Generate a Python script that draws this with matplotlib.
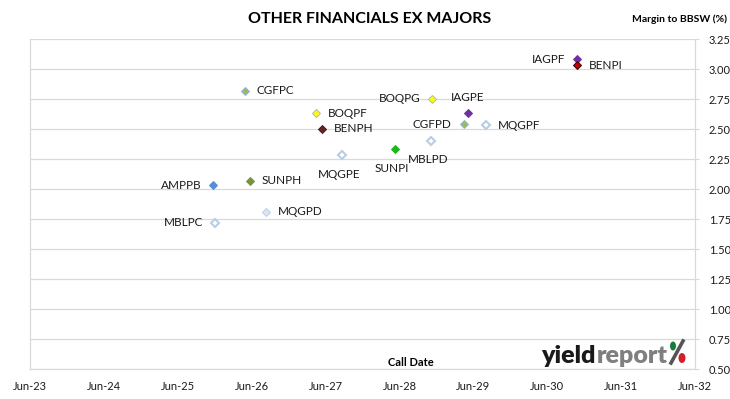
import datetime as dt
import matplotlib
matplotlib.use("Agg")
import matplotlib.pyplot as plt
import matplotlib.dates as mdates
from matplotlib.patches import Ellipse
from matplotlib.lines import Line2D

plt.rcParams["font.family"] = ["Lato", "DejaVu Sans"]

# call date and margin for each security
names = ["CGFPC", "BOQPF", "BENPH", "MQGPE", "AMPPB", "SUNPH", "MQGPD", "MBLPC",
         "IAGPF", "BENPI", "BOQPG", "IAGPE", "CGFPD", "MQGPF", "MBLPD", "SUNPI"]
call_dates = ["2026-04-28", "2027-04-17", "2027-05-13", "2027-08-20",
              "2025-11-24", "2026-05-24", "2026-08-13", "2025-12-01",
              "2030-10-25", "2030-10-25", "2028-11-09", "2029-05-06",
              "2029-04-14", "2029-08-02", "2028-11-05", "2028-05-10"]
margins = [2.82, 2.63, 2.50, 2.28, 2.03, 2.07, 1.81, 1.72,
           3.08, 3.03, 2.75, 2.63, 2.54, 2.53, 2.40, 2.33]

# marker face / edge colours
LB = "#B9CDE5"
styles = {
    "CGFPC": ("#9BBB59", "#95B3D7"),
    "BOQPF": ("#FFFF00", "#B0B4C4"),
    "BENPH": ("#632523", "#4A1A18"),
    "MQGPE": ("white", LB),
    "AMPPB": ("#558ED5", "#558ED5"),
    "SUNPH": ("#77933C", "#77933C"),
    "MQGPD": ("#DCE6F2", LB),
    "MBLPC": ("white", LB),
    "IAGPF": ("#7030A0", "#7030A0"),
    "BENPI": ("#C00000", "#400000"),
    "BOQPG": ("#FFFF00", "#B0B4C4"),
    "IAGPE": ("#7030A0", "#7030A0"),
    "CGFPD": ("#9BBB59", "#95B3D7"),
    "MQGPF": ("white", LB),
    "MBLPD": ("white", LB),
    "SUNPI": ("#1CB81C", "#1CB81C"),
}

# label placement: r = right, l = left, b = below, a = above
label_side = {"CGFPC": "r", "BOQPF": "r", "BENPH": "r", "MQGPE": "b",
              "AMPPB": "l", "SUNPH": "r", "MQGPD": "r", "MBLPC": "l",
              "IAGPF": "l", "BENPI": "r", "BOQPG": "l", "IAGPE": "a",
              "CGFPD": "l", "MQGPF": "r", "MBLPD": "b", "SUNPI": "b"}

fig = plt.figure(figsize=(7.3, 3.99), dpi=100)
ax = fig.add_axes([30 / 730, 30 / 399, 665 / 730, 330 / 399])

for name, d, m in zip(names, call_dates, margins):
    x = mdates.date2num(dt.datetime.strptime(d, "%Y-%m-%d"))
    fc, ec = styles[name]
    hollow = fc == "white"
    ax.plot(x, m, marker="D", ms=3.6 if hollow else 4.0, mfc=fc, mec=ec,
            mew=1.5 if hollow else 0.7, ls="none", zorder=3)
    side = label_side[name]
    if side == "r":
        off, ha, va = (8.5, 0), "left", "center"
    elif side == "l":
        off, ha, va = (-8.5, 0), "right", "center"
    elif side == "b":
        off, ha, va = (-2, -13.5), "center", "center"
    else:
        off, ha, va = (0, 11.5), "center", "center"
    ax.annotate(name, (x, m), xytext=off, textcoords="offset points",
                ha=ha, va=va, fontsize=8.5, color="#1a1a1a")

ax.set_xlim(mdates.date2num(dt.datetime(2023, 6, 1)),
            mdates.date2num(dt.datetime(2032, 6, 1)))
ax.set_ylim(0.5, 3.25)
ax.xaxis.set_major_locator(mdates.MonthLocator(bymonth=6, bymonthday=1))
ax.xaxis.set_major_formatter(mdates.DateFormatter("Jun-%y"))
ax.set_yticks([0.5 + 0.25 * i for i in range(12)])
ax.yaxis.set_major_formatter(matplotlib.ticker.FormatStrFormatter("%.2f"))

ax.yaxis.tick_right()
ax.tick_params(axis="y", direction="out", length=3, width=0.8, color="#D9D9D9",
               labelsize=8, pad=7, labelcolor="#1a1a1a")
ax.tick_params(axis="x", length=0, labelsize=8, pad=9, labelcolor="#1a1a1a")
ax.grid(axis="y", color="#D9D9D9", lw=0.9)
ax.set_axisbelow(True)
for s in ["left", "right", "bottom"]:
    ax.spines[s].set_color("#D9D9D9")
    ax.spines[s].set_linewidth(0.9)
ax.spines["top"].set_visible(False)

fig.text(370 / 730, 1 - 19 / 399, "OTHER FINANCIALS EX MAJORS", ha="center",
         va="center", fontsize=11.5, fontweight="bold")
fig.text(727 / 730, 1 - 19 / 399, "Margin to BBSW (%)", ha="right",
         va="center", fontsize=7.5, fontweight="bold")
fig.text(411 / 730, 1 - 363 / 399, "Call Date", ha="center", va="center",
         fontsize=8, fontweight="bold")

# yieldreport logo
fig.text(596 / 730, 1 - 363 / 399, "yield", ha="right", va="baseline",
         fontsize=18, fontweight="heavy", color="#1a1a1a")
fig.text(597 / 730, 1 - 363 / 399, "report", ha="left", va="baseline",
         fontsize=18, fontweight="heavy", color="#7f7f7f")
fig.add_artist(Line2D([671 / 730, 683 / 730], [1 - 363 / 399, 1 - 341 / 399],
                      transform=fig.transFigure, color="#555555", lw=2.6))
fig.add_artist(Ellipse((673 / 730, 1 - 346 / 399), 6 / 730, 9 / 399,
                       transform=fig.transFigure, fc="#1a7a3a", ec="none"))
fig.add_artist(Ellipse((682 / 730, 1 - 358 / 399), 7 / 730, 10 / 399,
                       transform=fig.transFigure, fc="#d0202a", ec="none"))

fig.savefig("out.png", dpi=100)
